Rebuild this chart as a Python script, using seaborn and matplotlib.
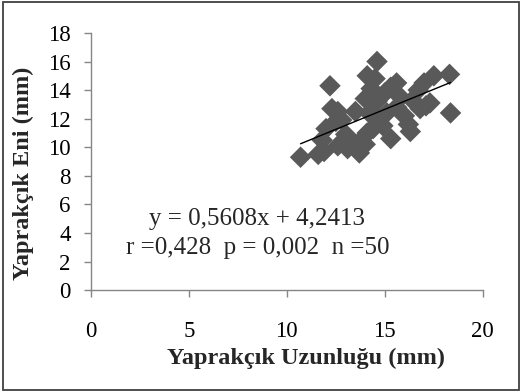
import numpy as np
import pandas as pd
import matplotlib
matplotlib.use("Agg")
import matplotlib.pyplot as plt
import seaborn as sns

# Leaflet length (x) and leaflet width (y), mm
leaflet_length = [10.7, 11.6, 11.9, 11.8, 12.0, 12.2, 12.3, 12.6, 12.5, 12.8,
                  12.6, 12.9, 13.1, 13.0, 13.3, 13.6, 13.7, 13.8, 14.0, 14.1,
                  14.2, 14.0, 14.1, 14.6, 14.5, 14.3, 14.6, 14.7, 14.9, 14.4,
                  15.0, 15.1, 15.3, 15.3, 15.6, 15.6, 15.8, 16.2, 16.3, 16.4,
                  16.7, 16.8, 17.1, 17.0, 17.5, 17.3, 18.3, 18.35, 16.0, 13.5]
leaflet_width = [9.3, 9.5, 9.7, 10.5, 11.3, 14.3, 12.7, 12.5, 11.8, 11.9,
                 10.1, 10.3, 9.9, 10.9, 10.4, 10.0, 9.6, 10.5, 10.2, 11.0,
                 12.4, 13.4, 15.0, 16.0, 14.8, 14.1, 13.2, 12.0, 11.5, 11.3,
                 13.8, 12.4, 10.6, 14.2, 14.5, 12.8, 13.5, 11.6, 11.1, 13.3,
                 14.0, 12.7, 12.9, 14.5, 15.0, 13.1, 15.1, 12.4, 12.2, 12.5]

# Linear trend and statistics
slope = 0.5608
intercept = 4.2413
r_value = "0,428"
p_value = "0,002"
n_value = 50

x_ticks = [0, 5, 10, 15, 20]
y_ticks = [0, 2, 4, 6, 8, 10, 12, 14, 16, 18]

df = pd.DataFrame({"length": leaflet_length, "width": leaflet_width})

sns.set_style("white")
plt.rcParams["font.family"] = ["Liberation Serif", "DejaVu Serif"]

fig = plt.figure(figsize=(5.22, 3.92), dpi=100)
ax = fig.add_axes([0.174, 0.260, 0.751, 0.656])

sns.scatterplot(data=df, x="length", y="width", marker="D", s=120,
                color="#595959", edgecolor="none", linewidth=0, ax=ax, zorder=2)

tx = np.array([min(leaflet_length), max(leaflet_length)])
trend = pd.DataFrame({"x": tx, "y": slope * tx + intercept})
sns.lineplot(data=trend, x="x", y="y", color="black", linewidth=1.0, ax=ax, zorder=3)

ax.set_xlim(0, 20)
ax.set_ylim(0, 18)
ax.set_xticks(x_ticks)
ax.set_yticks(y_ticks)
ax.set_xticklabels([str(t) for t in x_ticks])
ax.set_yticklabels([str(t) for t in y_ticks])

for side in ["top", "right"]:
    ax.spines[side].set_visible(False)
for side in ["left", "bottom"]:
    ax.spines[side].set_color("#868686")
    ax.spines[side].set_linewidth(1.0)

ax.tick_params(axis="both", direction="out", length=5, width=1.0, color="#868686",
               labelsize=16.5, labelcolor="black", left=True, bottom=True)
ax.tick_params(axis="x", pad=17)
ax.tick_params(axis="y", pad=9.5)

ax.set_xlabel("Yaprakçık Uzunluğu (mm)", fontsize=17.5, fontweight="bold",
              va="center", ha="center")
ax.xaxis.set_label_coords(0.548, -0.265)
ax.set_ylabel("Yaprakçık Eni (mm)", fontsize=17.5, fontweight="bold",
              va="center", ha="center")
ax.yaxis.set_label_coords(-0.173, 0.455)

eq_text = f"y = {slope:.4f}x + {intercept:.4f}".replace(".", ",")
stat_text = f"r ={r_value}  p = {p_value}  n ={n_value}"
ax.text(8.5, 5.0, eq_text, ha="center", va="center", fontsize=18)
ax.text(8.5, 2.95, stat_text, ha="center", va="center", fontsize=18)

# Outer frame of the chart area
frame = plt.Rectangle((0.006, 0.006), 0.988, 0.988, transform=fig.transFigure,
                      fill=False, edgecolor="#404040", linewidth=1.3)
fig.patches.append(frame)

fig.savefig("out.png", dpi=100)
